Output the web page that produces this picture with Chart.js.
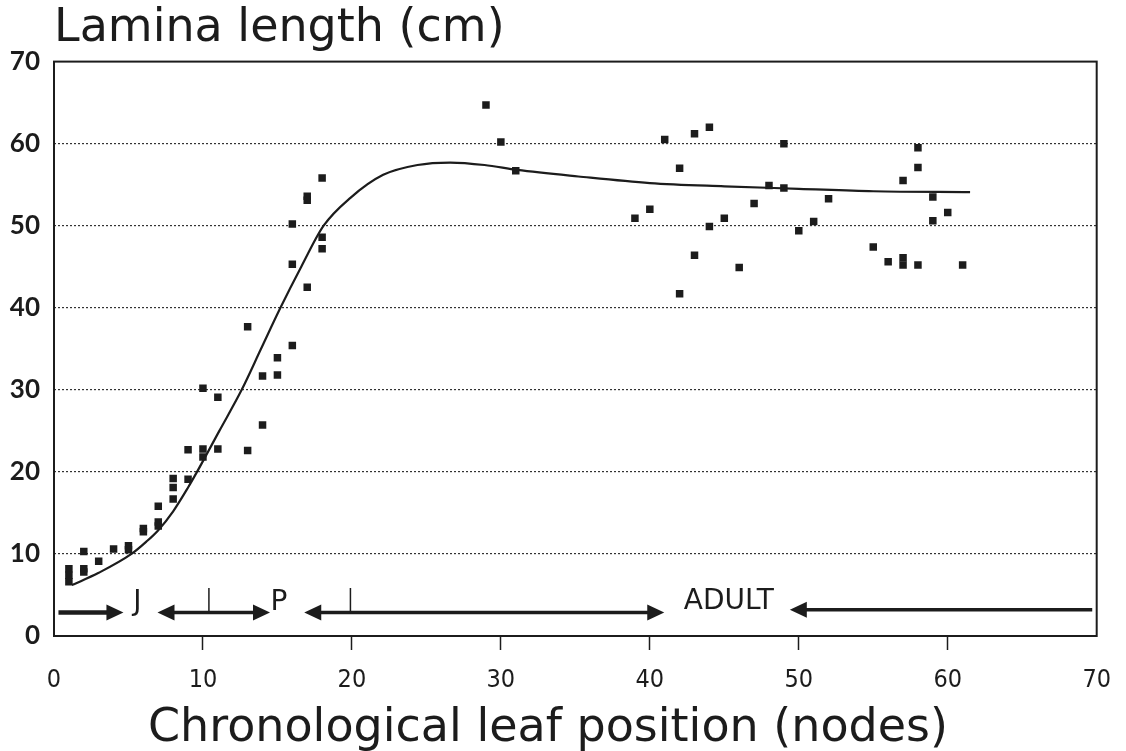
<!DOCTYPE html>
<html>
<head>
<meta charset="utf-8">
<script src="https://cdn.jsdelivr.net/npm/chart.js@4"></script>
<style>
  body { margin: 0; background: #fff; }
  #wrap { width: 1126px; height: 751px; }
</style>
</head>
<body>
<div id="wrap"><canvas id="laminaChart" width="1126" height="751"></canvas></div>
<script>
// measured leaf lamina lengths (node, cm)
var leafNode = [1, 1, 1, 2, 2, 2, 3, 4, 5, 5, 6, 6, 7, 7, 7, 8, 8, 8, 9, 9,
    10, 10, 10, 11, 11, 13, 13, 14, 14, 15, 15, 16, 16, 16, 17, 17, 17, 18, 18, 18,
    29, 30, 31, 39, 40, 41, 42, 42, 43, 43, 44, 44, 45, 46, 47, 48, 49, 49, 50, 51,
    52, 55, 56, 57, 57, 57, 58, 58, 58, 59, 59, 60, 61];
var leafLength = [6.6, 7.4, 8.2, 10.3, 8.2, 7.8, 9.1, 10.6, 10.5, 11.0, 12.7, 13.1, 15.8, 13.9, 13.4, 19.2, 18.1, 16.7, 22.7, 19.1,
    30.2, 22.8, 21.8, 29.1, 22.8, 37.7, 22.6, 31.7, 25.7, 33.9, 31.8, 50.2, 45.3, 35.4, 53.6, 53.1, 42.5, 55.8, 48.6, 47.2,
    64.7, 60.2, 56.7, 50.9, 52.0, 60.5, 57.0, 41.7, 61.2, 46.4, 62.0, 49.9, 50.9, 44.9, 52.7, 54.9, 60.0, 54.6, 49.4, 50.5,
    53.3, 47.4, 45.6, 55.5, 46.1, 45.2, 59.5, 57.1, 45.2, 53.5, 50.6, 51.6, 45.2];

// fitted curve
var curveX = [1.2, 3, 5.2, 6.2, 7, 8, 9, 9.6, 11.1, 12.6, 13.9, 15.2, 16.6, 18.1, 19.9, 22.1, 24.4, 26.6, 28.9, 31.1, 35.2, 40, 45, 50, 55, 61.5];
var curveY = [6.2, 7.7, 10.0, 11.5, 12.9, 15.2, 18.1, 20.0, 25.0, 30.0, 35.0, 40.0, 45.0, 50.0, 53.4, 56.2, 57.4, 57.7, 57.4, 56.8, 56.0, 55.2, 54.8, 54.5, 54.2, 54.1];

// phase arrows along the bottom
var arrowFrom = [0.3, 6.95, 16.8, 49.4];
var arrowTo = [4.66, 14.5, 40.97, 69.7];
var arrowLevel = [2.85, 2.85, 2.85, 3.2];
var headAtStart = [false, true, true, true];
var headAtEnd = [true, true, true, false];
var markNode = [10.4, 19.9];
var markLow = 2.85, markHigh = 5.85;
var phaseLabels = ['J', 'P', 'ADULT'];
var phaseX = [5.6, 15.1, 45.3];
var phaseY = [4.0, 4.1, 4.2];

var axisMin = 0, axisMax = 70, axisStep = 10;
var xTitle = 'Chronological leaf position (nodes)';

var ink = '#1c1c1c';
var geo = '"DejaVu Sans", Lato, sans-serif';

var scatterPts = leafNode.map(function(n, i) { return { x: n, y: leafLength[i] }; });
var curvePts = curveX.map(function(n, i) { return { x: n, y: curveY[i] }; });

function edgeTick(ctx) {
    var v = ctx.tick ? ctx.tick.value : null;
    return (v === axisMin || v === axisMax);
}

var frameAndArrows = {
    id: 'frameAndArrows',
    afterDatasetsDraw: function(chart) {
        var c = chart.ctx, a = chart.chartArea;
        var xs = chart.scales.x, ys = chart.scales.y;
        c.save();
        // box around plot
        c.strokeStyle = ink;
        c.lineWidth = 2;
        c.strokeRect(a.left, a.top, a.right - a.left, a.bottom - a.top);

        // arrows
        c.fillStyle = ink;
        for (var i = 0; i < arrowFrom.length; i++) {
            var x1 = xs.getPixelForValue(arrowFrom[i]);
            var x2 = xs.getPixelForValue(arrowTo[i]);
            var y = ys.getPixelForValue(arrowLevel[i]);
            var hl = 17, hw = 8;
            c.lineWidth = i === 0 ? 4.5 : 3.5;
            c.beginPath();
            c.moveTo(headAtStart[i] ? x1 + hl - 2 : x1, y);
            c.lineTo(headAtEnd[i] ? x2 - hl + 2 : x2, y);
            c.stroke();
            if (headAtEnd[i]) {
                c.beginPath();
                c.moveTo(x2, y);
                c.lineTo(x2 - hl, y - hw);
                c.lineTo(x2 - hl, y + hw);
                c.closePath();
                c.fill();
            }
            if (headAtStart[i]) {
                c.beginPath();
                c.moveTo(x1, y);
                c.lineTo(x1 + hl, y - hw);
                c.lineTo(x1 + hl, y + hw);
                c.closePath();
                c.fill();
            }
        }
        // small vertical marks
        c.lineWidth = 1.5;
        markNode.forEach(function(n) {
            var x = xs.getPixelForValue(n);
            c.beginPath();
            c.moveTo(x, ys.getPixelForValue(markLow));
            c.lineTo(x, ys.getPixelForValue(markHigh));
            c.stroke();
        });
        // phase labels
        c.font = '28px ' + geo;
        c.textAlign = 'center';
        c.textBaseline = 'middle';
        phaseLabels.forEach(function(t, i) {
            c.fillText(t, xs.getPixelForValue(phaseX[i]), ys.getPixelForValue(phaseY[i]));
        });
        // x axis title (sits a little left of centre in the original)
        c.font = '46px ' + geo;
        c.textAlign = 'left';
        c.textBaseline = 'alphabetic';
        c.fillText(xTitle, a.left + 94, 741);
        c.restore();
    }
};

var ctx = document.getElementById('laminaChart').getContext('2d');
var chart = new Chart(ctx, {
    type: 'scatter',
    data: {
        datasets: [{
                type: 'line',
                label: 'fit',
                data: curvePts,
                borderColor: ink,
                borderWidth: 2.2,
                pointRadius: 0,
                fill: false,
                cubicInterpolationMode: 'monotone'
            },
            {
                label: 'Lamina length',
                data: scatterPts,
                pointStyle: 'rect',
                pointRadius: 5.3,
                backgroundColor: ink,
                borderColor: ink,
                borderWidth: 0
            }
        ]
    },
    options: {
        responsive: false,
        animation: false,
        events: [],
        layout: { padding: { left: 0, right: 29, top: 0, bottom: 0 } },
        plugins: {
            legend: { display: false },
            tooltip: { enabled: false },
            title: {
                display: true,
                text: 'Lamina length (cm)',
                align: 'start',
                fullSize: false,
                color: ink,
                font: { family: geo, size: 46, weight: 'normal', lineHeight: 1.1 },
                padding: { top: 4, bottom: 7 }
            }
        },
        scales: {
            x: {
                type: 'linear',
                min: axisMin,
                max: axisMax,
                border: { display: false },
                grid: {
                    drawOnChartArea: false,
                    drawTicks: true,
                    tickLength: 14,
                    tickWidth: 1.5,
                    tickColor: function(c) { return edgeTick(c) ? 'rgba(0,0,0,0)' : ink; }
                },
                ticks: {
                    stepSize: axisStep,
                    padding: 15,
                    color: ink,
                    font: { family: '"DejaVu Sans Condensed", "Liberation Sans Narrow", Roboto, sans-serif', size: 25 }
                },
                afterFit: function(s) { s.height = 751 - 636; }
            },
            y: {
                type: 'linear',
                min: axisMin,
                max: axisMax,
                border: { display: false, dash: [2, 2] },
                grid: {
                    drawTicks: false,
                    lineWidth: 1.2,
                    color: function(c) { return edgeTick(c) ? 'rgba(0,0,0,0)' : '#333'; }
                },
                ticks: {
                    stepSize: axisStep,
                    padding: 14,
                    color: ink,
                    font: { family: 'Lato, "DejaVu Sans", sans-serif', size: 26, weight: 'bold' }
                },
                afterFit: function(s) { s.width = 54; }
            }
        }
    },
    plugins: [frameAndArrows]
});
</script>
</body>
</html>
